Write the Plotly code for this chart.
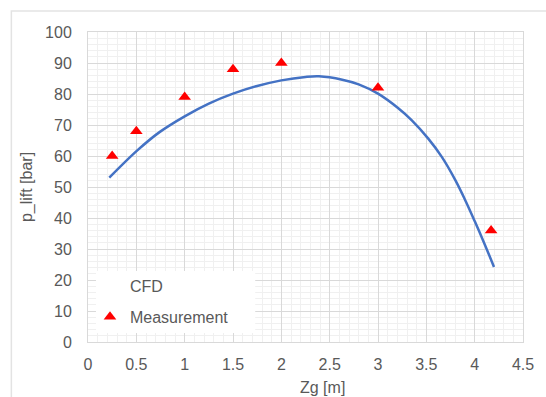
import plotly.graph_objects as go

# CFD curve
cfd_x = [0.22, 0.51, 0.74, 1.0, 1.25, 1.5, 1.74, 2.0, 2.25, 2.39, 2.63, 2.8, 3.0, 3.21, 3.35, 3.52, 3.66, 3.8, 3.9, 4.0, 4.1, 4.2]
cfd_y = [53.0, 61.8, 67.7, 72.8, 76.9, 80.1, 82.5, 84.4, 85.5, 85.7, 84.6, 83.1, 80.1, 75.4, 71.5, 65.6, 59.7, 52.2, 45.9, 39.0, 31.8, 24.2]

# Measurements
meas_x = [0.25, 0.5, 1.0, 1.5, 2.0, 3.0, 4.17]
meas_y = [60, 68, 79, 88, 90, 82, 36]

x_ticks = [0, 0.5, 1, 1.5, 2, 2.5, 3, 3.5, 4, 4.5]
y_ticks = [0, 10, 20, 30, 40, 50, 60, 70, 80, 90, 100]

FONT = "Liberation Sans, Arial, sans-serif"
GRAY = "#595959"

fig = go.Figure()
fig.add_trace(go.Scatter(x=cfd_x, y=cfd_y, mode="lines",
                         line=dict(color="#4472C4", width=2.5, shape="spline", smoothing=1),
                         name="CFD", showlegend=False))
fig.add_trace(go.Scatter(x=[None], y=[None], mode="lines", line=dict(color="rgba(0,0,0,0)", width=2.5),
                         name="CFD", legendgroup="a"))
fig.add_trace(go.Scatter(x=meas_x, y=meas_y, mode="markers",
                         marker=dict(symbol="triangle-up", color="#FF0000", size=11),
                         name="Measurement", legendgroup="b"))

axis_common = dict(showline=True, linecolor="#d9d9d9", linewidth=1, mirror=True,
                   showgrid=True, gridcolor="#d9d9d9", gridwidth=1, zeroline=False,
                   tickfont=dict(size=16, color=GRAY, family=FONT), ticks="")

fig.update_xaxes(range=[0, 4.5], tickvals=x_ticks, ticktext=[str(v) for v in x_ticks],
                 minor=dict(dtick=0.1, showgrid=True, gridcolor="#f0f0f0", gridwidth=1),
                 ticklabelstandoff=8, **axis_common)
fig.update_yaxes(range=[0, 100], tickvals=y_ticks, ticktext=[str(v) for v in y_ticks],
                 minor=dict(dtick=2, showgrid=True, gridcolor="#f0f0f0", gridwidth=1),
                 ticklabelstandoff=12,
                 title=dict(text="p_lift [bar]", font=dict(size=16, color=GRAY, family=FONT), standoff=8),
                 **axis_common)

fig.add_annotation(text="Zg [m]", xref="paper", yref="paper", x=0.54, y=-0.148,
                   xanchor="center", yanchor="middle", showarrow=False,
                   font=dict(size=16, color=GRAY, family=FONT))

# chart border and legend background
fig.add_shape(type="rect", xref="paper", yref="paper", x0=-0.1762, y0=-0.3, x1=1.2, y1=1.0677,
              line=dict(color="#e3e3e3", width=1.5), layer="below")
fig.add_shape(type="rect", xref="paper", yref="paper", x0=(96-88)/437, x1=(256-88)/437,
              y0=(342-333)/310, y1=(342-271)/310, fillcolor="white", line=dict(width=0), layer="above")

fig.update_layout(
    width=546, height=397,
    margin=dict(l=88, r=21, t=32, b=55),
    paper_bgcolor="white", plot_bgcolor="white",
    font=dict(family=FONT, color=GRAY, size=16),
    legend=dict(x=(90-88)/437, y=(342-269)/310, xanchor="left", yanchor="top",
                bgcolor="rgba(0,0,0,0)", font=dict(size=16, color=GRAY, family=FONT),
                tracegroupgap=7),
)

fig.write_html("out.html", config={"displayModeBar": False},
               post_script="document.body.style.margin='0';document.body.style.padding='0';")
